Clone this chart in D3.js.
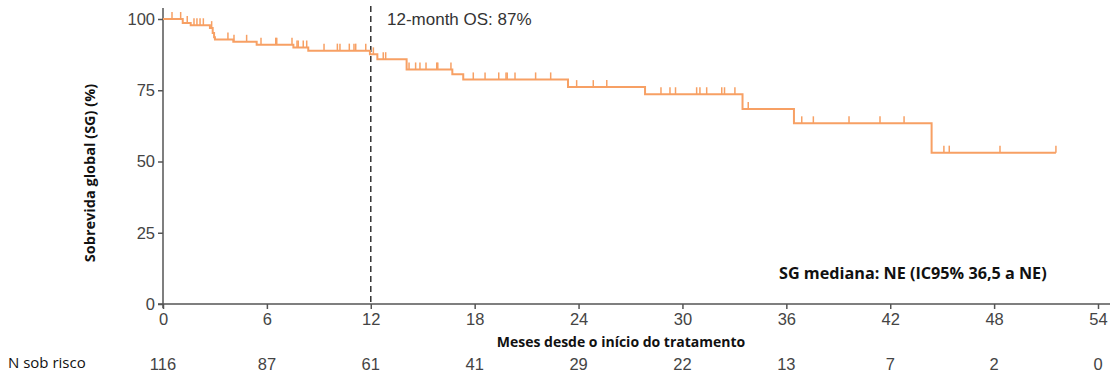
<!DOCTYPE html>
<html>
<head>
<meta charset="utf-8">
<script src="https://cdn.jsdelivr.net/npm/d3@7"></script>
<style>
  body { margin: 0; background: #fff; }
  svg text { font-family: "Liberation Sans", Arial, sans-serif; }
  .axis path, .axis line { stroke: #555; stroke-width: 1.5; }
  .axis text { font-size: 16.5px; fill: #444; }
  .bold { font-family: "Open Sans", sans-serif !important; font-weight: 700; fill: #111; }
</style>
</head>
<body>
<svg id="chart" width="1113" height="380"></svg>
<script>
// KM step data: months at which survival drops, and survival (%) after the drop
var stepTimes = [0, 1.14, 1.6, 2.71, 2.87, 2.95, 3.0, 4.06, 5.41, 7.53, 8.39, 11.95, 12.38, 14.07, 16.71, 17.34, 23.39, 27.84, 33.47, 36.44, 44.39];
var stepSurv  = [100, 98.6, 97.8, 96.8, 95.1, 93.6, 92.8, 92.0, 91.0, 90.0, 88.9, 87.6, 85.9, 82.3, 80.6, 78.8, 76.1, 73.6, 68.4, 63.4, 53.1];
var lastTime = 51.57;

// censored observations (months)
var censorTimes = [0.52, 1.02, 1.40, 1.79, 1.96, 2.14, 2.33, 2.81, 3.75, 4.10, 4.83, 5.66, 6.51, 6.57,
  7.45, 7.74, 7.81, 8.10, 8.30, 9.30, 10.07, 10.22, 10.76, 11.03, 11.13, 11.71, 12.15, 12.72, 12.86,
  14.21, 14.59, 14.84, 15.19, 15.81, 15.87, 16.63, 17.92, 18.60, 19.39, 19.81, 19.88, 20.33, 21.52,
  22.39, 23.89, 24.85, 25.63, 28.76, 29.28, 29.60, 30.82, 31.01, 31.40, 32.27, 32.43, 33.03, 33.80,
  36.89, 37.56, 39.62, 41.41, 42.80, 45.10, 45.41, 48.34, 51.57];

var xTicks = [0, 6, 12, 18, 24, 30, 36, 42, 48, 54];
var yTicks = [0, 25, 50, 75, 100];
var atRisk = [116, 87, 61, 41, 29, 22, 13, 7, 2, 0];

var svg = d3.select("#chart");

var x = d3.scaleLinear().domain([0, 54]).range([163, 1098]);
var y = d3.scaleLinear().domain([0, 100]).range([304, 19]);

function survAt(t) {
  var s = 100;
  for (var i = 0; i < stepTimes.length; i++) {
    if (stepTimes[i] <= t) s = stepSurv[i];
  }
  return s;
}

// axes
svg.append("g")
  .attr("class", "axis")
  .attr("transform", "translate(0,304)")
  .call(d3.axisBottom(x).tickValues(xTicks).tickSize(5).tickSizeOuter(0).tickPadding(4))
  .call(function (g) { g.select(".domain").attr("d", "M158,0H1110"); });

svg.append("g")
  .attr("class", "axis")
  .attr("transform", "translate(163,0)")
  .call(d3.axisLeft(y).tickValues(yTicks).tickSize(5).tickSizeOuter(0).tickPadding(3))
  .call(function (g) { g.select(".domain").attr("d", "M0,8V308"); });

// 12-month reference line
svg.append("line")
  .attr("x1", x(12)).attr("x2", x(12))
  .attr("y1", 6).attr("y2", 304)
  .attr("stroke", "#333")
  .attr("stroke-width", 1.5)
  .attr("stroke-dasharray", "6,4");

// KM curve
var pts = stepTimes.map(function (t, i) { return [t, stepSurv[i]]; });
pts.push([lastTime, stepSurv[stepSurv.length - 1]]);

var line = d3.line()
  .x(function (d) { return x(d[0]); })
  .y(function (d) { return y(d[1]); })
  .curve(d3.curveStepAfter);

svg.append("path")
  .attr("d", line(pts))
  .attr("fill", "none")
  .attr("stroke", "#f7a064")
  .attr("stroke-width", 2);

svg.selectAll(".censor")
  .data(censorTimes)
  .enter().append("line")
  .attr("class", "censor")
  .attr("x1", function (d) { return x(d); })
  .attr("x2", function (d) { return x(d); })
  .attr("y1", function (d) { return y(survAt(d)); })
  .attr("y2", function (d) { return y(survAt(d)) - 7; })
  .attr("stroke", "#f7a064")
  .attr("stroke-width", 1.5);

// annotations
svg.append("text")
  .attr("x", 387).attr("y", 25)
  .attr("font-size", "17px")
  .attr("fill", "#333")
  .text("12-month OS: 87%");

svg.append("text")
  .attr("class", "bold")
  .attr("x", 779).attr("y", 279)
  .attr("font-size", "16.2px")
  .text("SG mediana: NE (IC95% 36,5 a NE)");

svg.append("text")
  .attr("class", "bold")
  .attr("text-anchor", "middle")
  .attr("transform", "translate(95,173) rotate(-90)")
  .attr("font-size", "14.5px")
  .text("Sobrevida global (SG) (%)");

svg.append("text")
  .attr("class", "bold")
  .attr("text-anchor", "middle")
  .attr("x", 621).attr("y", 347)
  .attr("font-size", "14px")
  .text("Meses desde o início do tratamento");

// numbers at risk
svg.append("text")
  .attr("x", 8).attr("y", 368)
  .attr("font-size", "15px")
  .attr("fill", "#111")
  .style("font-family", "'Open Sans', sans-serif")
  .text("N sob risco");

svg.selectAll(".risk")
  .data(atRisk)
  .enter().append("text")
  .attr("class", "risk")
  .attr("text-anchor", "middle")
  .attr("x", function (d, i) { return x(xTicks[i]); })
  .attr("y", 370)
  .attr("font-size", "16.5px")
  .attr("fill", "#444")
  .text(function (d) { return d; });
</script>
</body>
</html>
